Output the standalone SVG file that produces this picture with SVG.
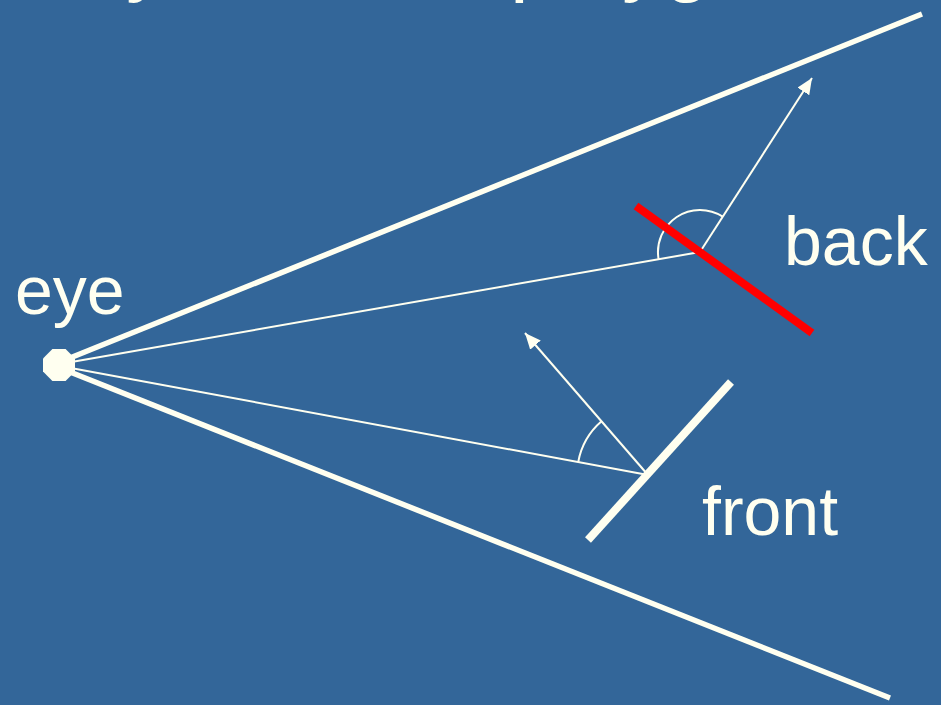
<svg xmlns="http://www.w3.org/2000/svg" width="941" height="705" viewBox="0 0 941 705">
  <style>
    .lbl { font-family: "Liberation Sans", Arial, sans-serif; font-size: 68px; fill: #FFFFF0; }
    .title { font-family: "Liberation Sans", Arial, sans-serif; font-size: 84px; fill: #FFFFF0; }
    .thick { stroke: #FFFFF0; stroke-width: 5.5; fill: none; stroke-linecap: butt; }
    .thin { stroke: #FFFFF0; stroke-width: 2; fill: none; }
    .poly { stroke-width: 8; fill: none; }
  </style>
  <defs>
    <marker id="arrow" markerUnits="userSpaceOnUse" markerWidth="16" markerHeight="14" refX="16" refY="7" orient="auto">
      <path d="M0,0 L16,7 L0,14 Z" fill="#FFFFF0"/>
    </marker>
  </defs>
  <rect x="0" y="0" width="941" height="705" fill="#336699"/>
  <text class="title" y="-14"><tspan x="0">Why cull back</tspan><tspan x="510">polygons</tspan></text>

  <g id="connectors">
    <line class="thick" x1="60" y1="362" x2="922" y2="14"/>
    <line class="thick" x1="60" y1="368" x2="890" y2="698"/>
    <line class="thin" x1="60" y1="364" x2="700" y2="252"/>
    <line class="thin" x1="60" y1="366" x2="648" y2="475"/>
    <line class="thin" x1="700" y1="252" x2="812" y2="78" marker-end="url(#arrow)"/>
    <line class="thin" x1="648" y1="475" x2="525" y2="333" marker-end="url(#arrow)"/>
    <path class="thin" d="M658.6,259.2 A42,42 0 0 1 722.7,216.7"/>
    <path class="thin" d="M578.2,462.1 A71,71 0 0 1 601.5,421.3"/>
  </g>

  <g id="eye">
    <polygon points="75,358.4 65.6,349 52.4,349 43,358.4 43,371.6 52.4,381 65.6,381 75,371.6" fill="#FFFFF0"/>
    <text class="lbl" x="15" y="314">eye</text>
  </g>

  <g id="back">
    <line class="poly" x1="636" y1="206" x2="812" y2="333" stroke="#FF0000"/>
    <text class="lbl" x="784" y="265">back</text>
  </g>

  <g id="front">
    <line class="poly" x1="588" y1="540" x2="731" y2="382" stroke="#FFFFF0"/>
    <text class="lbl" x="702" y="535">front</text>
  </g>
</svg>
